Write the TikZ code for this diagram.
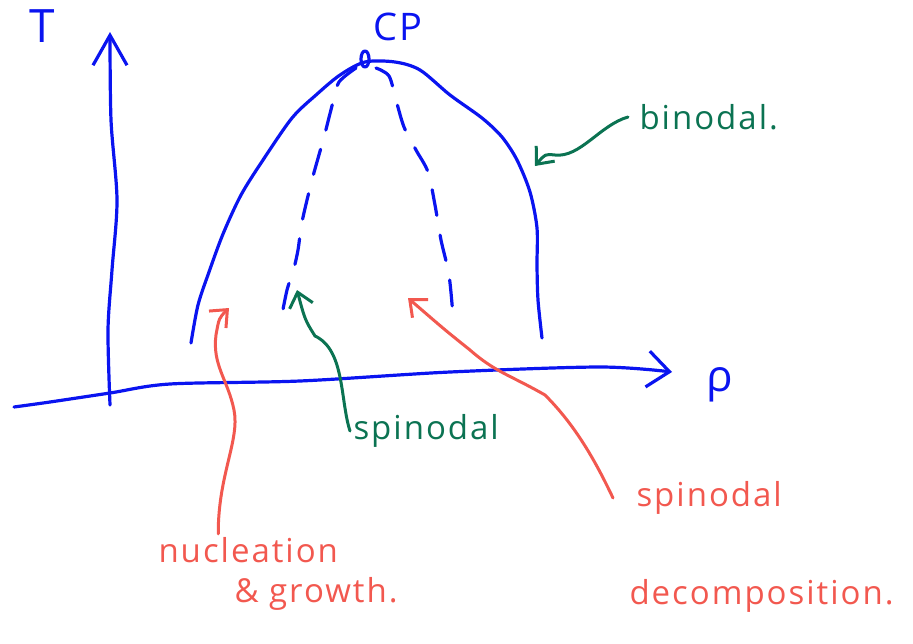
\documentclass[tikz,border=0pt]{standalone}
\usepackage{fontspec}
\setsansfont[LetterSpace=6]{Open Sans}
\usetikzlibrary{arrows.meta,calc}
\definecolor{pen}{HTML}{0A14F0}
\definecolor{moss}{HTML}{0B7352}
\definecolor{coral}{HTML}{F2584F}

\tikzset{
  ink/.style={pen,line width=3.2pt},
  dashink/.style={ink,dash pattern=on 26pt off 20pt},
  note/.style={line width=3pt,-{Straight Barb[length=14pt,width=24pt]}},
  hand/.style={font=\sffamily\fontsize{33}{38}\selectfont},
}

\begin{document}
\begin{tikzpicture}[x=1pt,y=-1pt,line cap=round,line join=round]
  \useasboundingbox (0,0) rectangle (913,643);

  % axes
  \draw[ink,-{Straight Barb[length=30pt,width=34pt]}] plot[smooth] coordinates
    {(110,405) (108,330) (112,270) (117,200) (111,120) (110,32)};
  \draw[ink,-{Straight Barb[length=22pt,width=36pt]}] plot[smooth] coordinates
    {(14,407) (50,402) (110,393) (170,384) (300,381) (450,372) (600,367) (672,372)};
  \node[pen,font=\sffamily\fontsize{46}{46}\selectfont] (lblT) at (42,26) {T};
  \node[pen,font=\sffamily\fontsize{44}{44}\selectfont] (lblrho) at (720,385) {ρ};

  % binodal
  \draw[ink] plot[smooth] coordinates
    {(191,343) (198,305) (209,272) (223,234) (241,195) (263,160) (292,118)
     (316,95) (340,75) (365,62) (395,62) (420,70) (450,95) (482,118) (502,137)
     (517,160) (530,192) (537,228) (537,265) (538,300) (542,338)};
  \draw[ink] (365,59) ellipse (4 and 8);
  \node[pen,hand,font=\sffamily\fontsize{38}{38}\selectfont] (lblcp) at (398,27) {CP};

  % spinodal
  \draw[dashink] plot[smooth] coordinates
    {(356,68) (339,82) (333,102) (324,137) (312,180) (302,222) (298,250) (293,272) (287,290) (280,325)};
  \draw[dashink] plot[smooth] coordinates
    {(376,68) (389,76) (396,100) (404,127) (416,150) (428,172) (435,205) (441,240) (449,275) (453,316)};

  % labels
  \node[hand,moss,anchor=west] (binlbl) at (636,117) {binodal.};
  \node[hand,moss,anchor=west] (spinlbl) at (350,431) {spinodal};
  \node[hand,coral,anchor=west] (nuclbl) at (155,550) {nucleation};
  \node[hand,coral,anchor=west] (grolbl) at (231,594) {\& growth.};
  \node[hand,coral,anchor=west] (spdlbl) at (633,498) {spinodal};
  \node[hand,coral,anchor=west] (declbl) at (626,596) {decomposition.};

  \coordinate (binpt) at (535,166);
  \coordinate (spinpt) at (297,290);
  \coordinate (nucpt) at (229,308);
  \coordinate (decpt) at (408,298);

  % arrows
  \draw[note,moss] ([xshift=-8pt]binlbl.west) .. controls (600,125) and (580,158) .. (555,155)
    .. controls (545,154) .. (binpt);
  \draw[note,moss] (spinlbl.west) .. controls (340,400) and (345,350) .. (315,336)
    .. controls (305,320) .. (spinpt);
  \draw[note,coral] ([xshift=-30pt]nuclbl.north) .. controls (218,475) and (240,440) .. (234,410)
    .. controls (228,380) and (212,365) .. (216,335) .. controls (219,318) .. (nucpt);
  \draw[note,coral] ([xshift=-20pt]spdlbl.west) .. controls (595,460) and (575,425) .. (545,395)
    .. controls (510,375) and (495,372) .. (470,350) .. controls (445,330) .. (decpt);
\end{tikzpicture}
\end{document}
